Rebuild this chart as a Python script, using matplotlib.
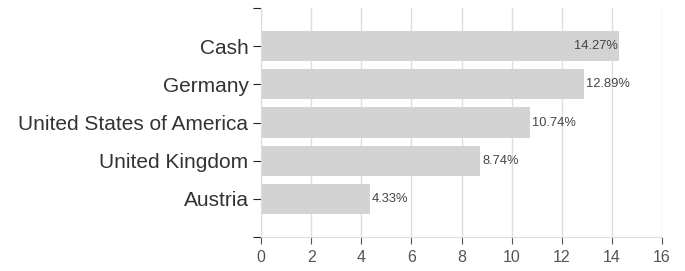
import matplotlib.pyplot as plt
import numpy as np

plt.rcParams['font.family'] = ['Liberation Sans', 'DejaVu Sans']

countries = ['Cash', 'Germany', 'United States of America', 'United Kingdom', 'Austria']
weights = [14.27, 12.89, 10.74, 8.74, 4.33]
xticks = [0, 2, 4, 6, 8, 10, 12, 14, 16]

fig = plt.figure(figsize=(6.85, 2.71), dpi=100)
ax = fig.add_axes([261 / 685, 1 - 237 / 271, 401 / 685, 229 / 271])

y = np.arange(len(countries))
ax.barh(y, weights, height=0.79, color='#d3d3d3', zorder=2)

for i, w in enumerate(weights):
    if w > 14:
        ax.text(w - 0.05, i, f'{w:.2f}%', ha='right', va='center', fontsize=9.3, color='#444')
    else:
        ax.text(w + 0.08, i, f'{w:.2f}%', ha='left', va='center', fontsize=9.3, color='#444')

ax.set_xlim(0, 16)
ax.set_ylim(5, -1)
ax.set_xticks(xticks)
ax.set_xticklabels([str(t) for t in xticks], fontsize=11.5, color='#555')
ax.set_yticks(list(y) + [-1, 5])
ax.set_yticklabels(countries + ['', ''], fontsize=15, color='#333')
ax.grid(axis='x', color='#dddddd', linewidth=1, zorder=0)
ax.tick_params(axis='y', length=6, color='#222', pad=3)
ax.tick_params(axis='x', length=5, color='#555', pad=4)
for s in ['top', 'right']:
    ax.spines[s].set_visible(False)
ax.spines['left'].set_color('#dddddd')
ax.spines['bottom'].set_color('#dddddd')

plt.savefig('out.png', dpi=100)
